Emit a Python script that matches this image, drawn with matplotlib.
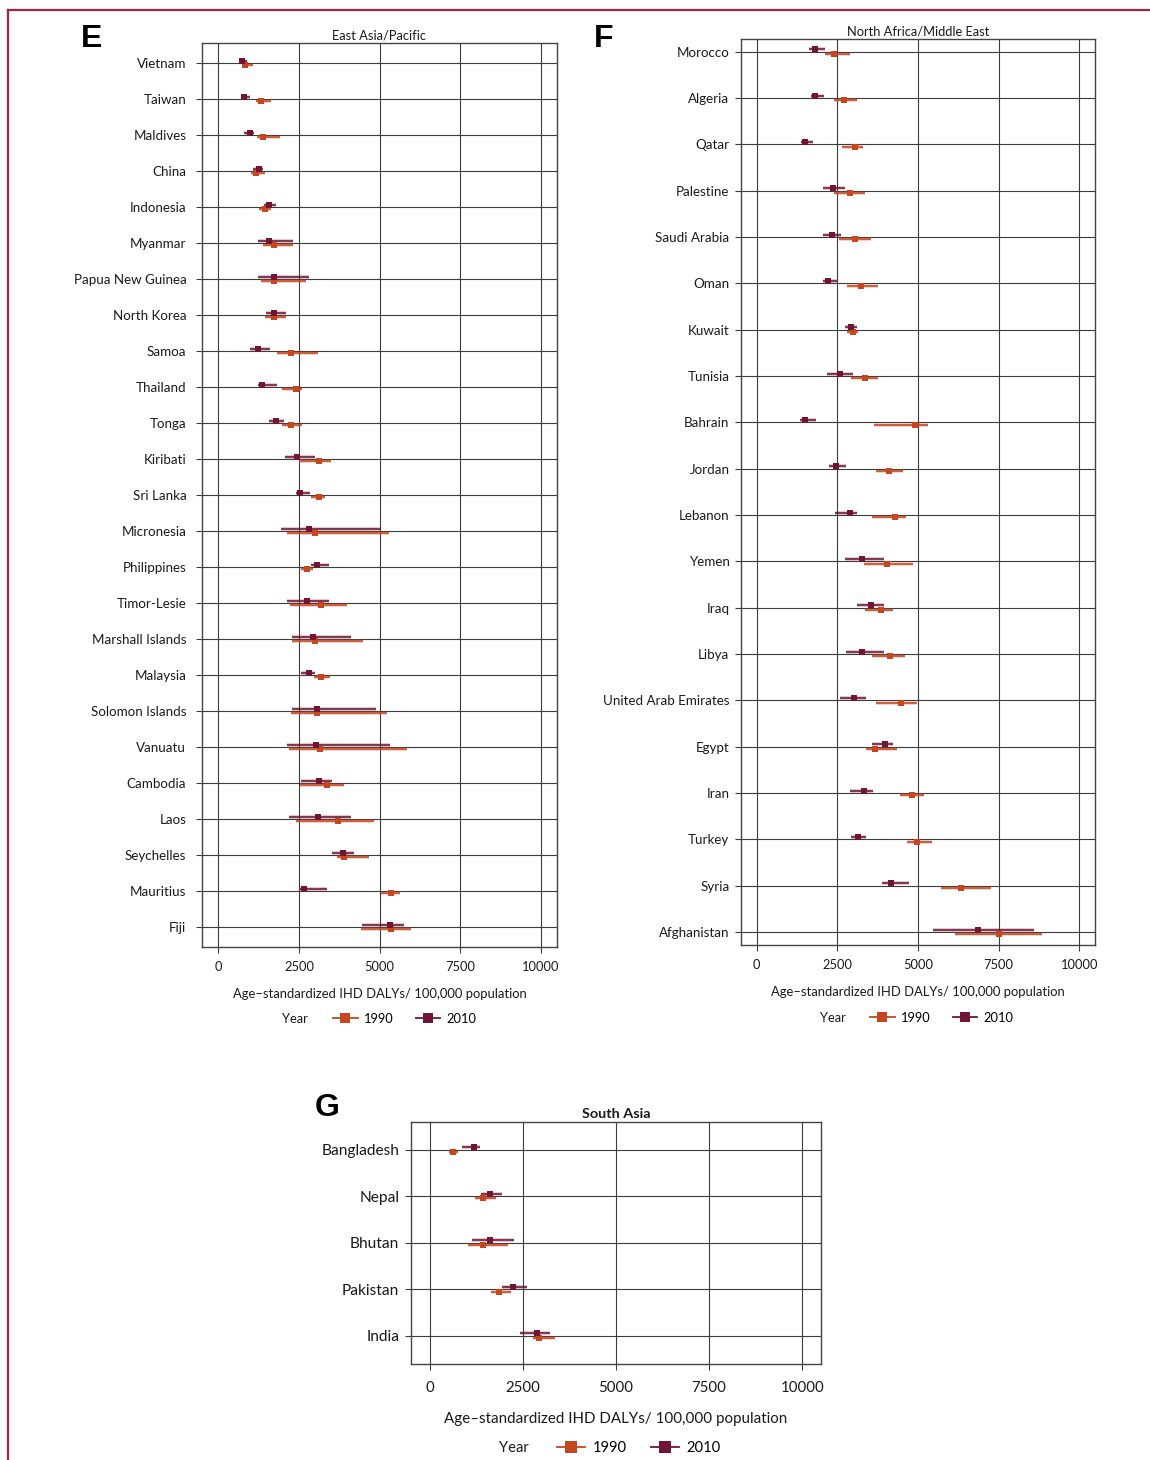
import matplotlib
matplotlib.use("Agg")
import matplotlib.pyplot as plt
from matplotlib.lines import Line2D
import numpy as np

plt.rcParams['font.family'] = ['Lato', 'DejaVu Sans']

# ---------------- East Asia / Pacific ----------------
countries_e = ["Vietnam", "Taiwan", "Maldives", "China", "Indonesia", "Myanmar",
               "Papua New Guinea", "North Korea", "Samoa", "Thailand", "Tonga",
               "Kiribati", "Sri Lanka", "Micronesia", "Philippines", "Timor-Lesie",
               "Marshall Islands", "Malaysia", "Solomon Islands", "Vanuatu",
               "Cambodia", "Laos", "Seychelles", "Mauritius", "Fiji"]
e_2010 = [740, 800, 980, 1260, 1570, 1570, 1730, 1730, 1230, 1350, 1790, 2450, 2530,
          2820, 3070, 2760, 2940, 2820, 3070, 3040, 3130, 3100, 3880, 2660, 5340]
e_2010_lo = [660, 720, 780, 1080, 1430, 1220, 1240, 1490, 980, 1220, 1580, 2070, 2420,
             1940, 2870, 2120, 2290, 2560, 2290, 2140, 2560, 2200, 3530, 2530, 4460]
e_2010_hi = [890, 970, 1120, 1370, 1780, 2320, 2800, 2090, 1600, 1810, 2050, 2990, 2850,
             5020, 3420, 3420, 4110, 3000, 4890, 5330, 3540, 4110, 4200, 3360, 5770]
e_1990 = [840, 1330, 1390, 1170, 1450, 1730, 1730, 1730, 2260, 2420, 2260, 3130, 3130,
          3010, 2760, 3190, 3010, 3190, 3070, 3160, 3380, 3720, 3910, 5370, 5370]
e_1990_lo = [750, 1160, 1200, 1020, 1260, 1370, 1320, 1460, 1810, 1980, 1980, 2510, 2870,
             2120, 2560, 2230, 2290, 2960, 2240, 2190, 2530, 2400, 3680, 5040, 4420]
e_1990_hi = [1080, 1620, 1900, 1460, 1640, 2320, 2710, 2090, 3080, 2580, 2580, 3510, 3300,
             5290, 2940, 4000, 4490, 3450, 5230, 5860, 3910, 4830, 4680, 5630, 5990]

# ---------------- North Africa / Middle East ----------------
countries_f = ["Morocco", "Algeria", "Qatar", "Palestine", "Saudi Arabia", "Oman",
               "Kuwait", "Tunisia", "Bahrain", "Jordan", "Lebanon", "Yemen", "Iraq",
               "Libya", "United Arab Emirates", "Egypt", "Iran", "Turkey", "Syria",
               "Afghanistan"]
f_2010 = [1790, 1820, 1510, 2350, 2320, 2220, 2910, 2570, 1480, 2470, 2880, 3250, 3530,
          3250, 3000, 3990, 3310, 3150, 4150, 6850]
f_2010_lo = [1610, 1690, 1380, 2040, 2040, 2040, 2730, 2190, 1340, 2250, 2410, 2730, 3100,
             2780, 2590, 3560, 2880, 2910, 3870, 5450]
f_2010_hi = [2130, 2090, 1740, 2720, 2610, 2490, 3100, 2970, 1830, 2760, 3120, 3930, 3930,
             3930, 3390, 4220, 3600, 3390, 4720, 8590]
f_1990 = [2380, 2690, 3060, 2880, 3060, 3220, 2970, 3370, 4920, 4090, 4300, 4050, 3840,
          4120, 4460, 3680, 4800, 4980, 6320, 7500]
f_1990_lo = [2130, 2380, 2630, 2380, 2550, 2790, 2790, 2910, 3620, 3690, 3560, 3320, 3350,
             3560, 3690, 3400, 4430, 4660, 5710, 6140]
f_1990_hi = [2890, 3100, 3290, 3370, 3530, 3760, 3130, 3750, 5310, 4520, 4620, 4840, 4220,
             4610, 4960, 4350, 5200, 5440, 7260, 8850]

# ---------------- South Asia ----------------
countries_g = ["Bangladesh", "Nepal", "Bhutan", "Pakistan", "India"]
g_2010 = [1200, 1610, 1610, 2230, 2870]
g_2010_lo = [860, 1380, 1140, 1930, 2430]
g_2010_hi = [1340, 1930, 2270, 2600, 3230]
g_1990 = [620, 1420, 1420, 1870, 2940]
g_1990_lo = [530, 1220, 1040, 1640, 2780]
g_1990_hi = [750, 1790, 2110, 2180, 3360]

x_ticks = [0, 2500, 5000, 7500, 10000]
x_label = "Age\u2013standardized IHD DALYs/ 100,000 population"

C1990 = "#C4471F"
C2010 = "#701634"
GRID = "#3c3c3c"
TXT = "#1a1a1a"
W, H = 1150, 1460

fig = plt.figure(figsize=(W / 100, H / 100), dpi=100)


def px_axes(left, right, top, bottom):
    return fig.add_axes([left / W, 1 - bottom / H, (right - left) / W, (bottom - top) / H])


def draw_panel(ax, countries, v10, lo10, hi10, v90, lo90, hi90, pad_top, pad_bot,
               fs_lab, fs_tick, ms, ypad, xpad):
    n = len(countries)
    y = np.arange(n)
    d = 0.05
    for vals, lo, hi, col, off, z in [(v90, lo90, hi90, C1990, d, 4),
                                      (v10, lo10, hi10, C2010, -d, 5)]:
        vals = np.asarray(vals, float)
        lo = np.asarray(lo, float)
        hi = np.asarray(hi, float)
        yy = y + off
        ax.hlines(yy, lo, hi, color=col, lw=2.6, alpha=0.28, zorder=z)
        ax.errorbar(vals, yy, xerr=[vals - lo, hi - vals], fmt='s', color=col,
                    ecolor=col, elinewidth=1.15, capsize=0, ms=ms, mew=0, zorder=z + 1)
    ax.set_xlim(-500, 10500)
    ax.set_ylim(n - 1 + pad_bot, -pad_top)
    ax.set_yticks(y)
    ax.set_yticklabels(countries, fontsize=fs_lab, color=TXT)
    ax.set_xticks(x_ticks)
    ax.set_xticklabels([str(t) for t in x_ticks], fontsize=fs_tick, color=TXT)
    ax.grid(True, color=GRID, lw=0.8, zorder=1)
    ax.set_axisbelow(True)
    for s in ax.spines.values():
        s.set_color("#444444")
        s.set_linewidth(1.0)
    ax.tick_params(axis='both', color=GRID, width=0.8, length=4.5)
    ax.tick_params(axis='y', pad=ypad)
    ax.tick_params(axis='x', pad=xpad)


# Panel E
axE = px_axes(202.3, 556.7, 42.7, 947.3)
draw_panel(axE, countries_e, e_2010, e_2010_lo, e_2010_hi, e_1990, e_1990_lo, e_1990_hi,
           0.556, 0.57, 9.6, 9.3, 3.8, 7.0, 5.5)
axE.set_title("East Asia/Pacific", fontsize=9.3, pad=2.5, color=TXT)
axE.set_xlabel(x_label, fontsize=9.4, labelpad=10.5, color=TXT)

# Panel F
axF = px_axes(740.7, 1095.3, 39.3, 945.3)
draw_panel(axF, countries_f, f_2010, f_2010_lo, f_2010_hi, f_1990, f_1990_lo, f_1990_hi,
           0.27, 0.29, 9.6, 9.3, 3.8, 3.6, 5.5)
axF.set_title("North Africa/Middle East", fontsize=9.3, pad=2.5, color=TXT)
axF.set_xlabel(x_label, fontsize=9.4, labelpad=10.5, color=TXT)

# Panel G
axG = px_axes(411, 821, 1121.7, 1363.7)
draw_panel(axG, countries_g, g_2010, g_2010_lo, g_2010_hi, g_1990, g_1990_lo, g_1990_hi,
           0.6, 0.6, 11.2, 10.8, 4.3, 4.0, 7.6)
axG.set_title("South Asia", fontsize=10.4, fontweight='bold', pad=2.5, color=TXT)
axG.set_xlabel(x_label, fontsize=10.9, labelpad=12.6, color=TXT)


def year_legend(fs, xc, yc, xyear):
    handles = [Line2D([], [], color=C1990, lw=1.3, marker='s', ms=fs * 0.75, mew=0),
               Line2D([], [], color=C2010, lw=1.3, marker='s', ms=fs * 0.75, mew=0)]
    fig.text(xyear / W, 1 - yc / H, "Year", fontsize=fs, va='center', ha='left',
             color=TXT)
    fig.legend(handles, ["1990", "2010"], loc='center', ncol=2, frameon=False,
               bbox_to_anchor=(xc / W, 1 - yc / H), fontsize=fs, handlelength=1.9,
               handletextpad=0.5, columnspacing=1.7, borderpad=0)


year_legend(9.3, 405, 1019, 282)
year_legend(9.3, 942, 1018, 820)
year_legend(10.6, 639, 1448, 499)

# Panel letters
for letter, x, y in [("E", 81, 39), ("F", 594, 39), ("G", 315, 1108)]:
    fig.text(x / W, 1 - y / H, letter, fontsize=23, fontweight='bold',
             family='Liberation Sans', va='center', ha='left', color='black')

# Frame lines along the top and left edges
fig.add_artist(Line2D([7.5 / W, 1.0], [1 - 10 / H, 1 - 10 / H], color="#A3204A", lw=1.6))
fig.add_artist(Line2D([7.5 / W, 7.5 / W], [1 - 10 / H, 0.0], color="#A3204A", lw=1.6))

fig.savefig("out.png", dpi=100, facecolor="white")
